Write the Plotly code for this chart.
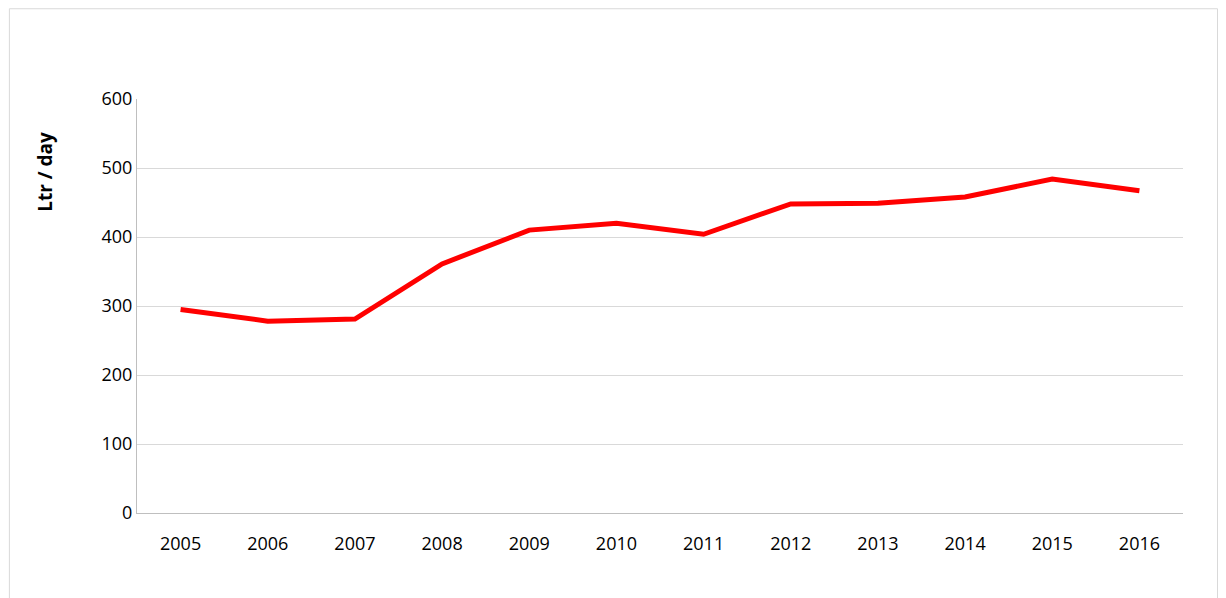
import plotly.graph_objects as go

years = ["2005","2006","2007","2008","2009","2010","2011","2012","2013","2014","2015","2016"]
values = [295, 278, 281, 361, 410, 420, 404, 448, 449, 458, 484, 467]

fig = go.Figure(go.Scatter(x=years, y=values, mode="lines",
                           line=dict(color="#ff0000", width=5)))
fig.update_layout(
    width=1218, height=590, paper_bgcolor="white", plot_bgcolor="white",
    margin=dict(l=129, r=43, t=91, b=85), showlegend=False,
    font=dict(family="Open Sans", size=18, color="black"),
    shapes=[dict(type="rect", xref="paper", yref="paper", x0=-0.122, x1=1.033, y0=-0.25, y1=1.218,
                 line=dict(color="#d9d9d9", width=1))],
    annotations=[dict(text="<b>Ltr / day</b>", xref="paper", yref="paper", x=-0.088, y=0.824,
                      textangle=-90, showarrow=False, font=dict(size=19),
                      xanchor="center", yanchor="middle")],
)
fig.update_xaxes(type="category", range=[-0.5, 11.5], showline=True, linecolor="#bfbfbf",
                 ticks="", showgrid=False, ticklabelstandoff=14)
fig.update_yaxes(range=[0, 600], dtick=100, showgrid=True, gridcolor="#d9d9d9",
                 showline=True, linecolor="#bfbfbf", zeroline=False, ticks="")
fig.write_html("out.html")
